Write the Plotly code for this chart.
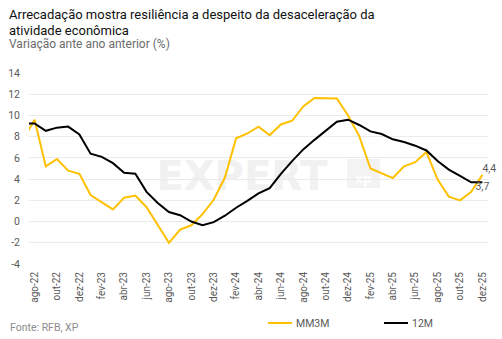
import plotly.graph_objects as go

months = ["jul-22", "ago-22", "set-22", "out-22", "nov-22", "dez-22",
          "jan-23", "fev-23", "mar-23", "abr-23", "mai-23", "jun-23",
          "jul-23", "ago-23", "set-23", "out-23", "nov-23", "dez-23",
          "jan-24", "fev-24", "mar-24", "abr-24", "mai-24", "jun-24",
          "jul-24", "ago-24", "set-24", "out-24", "nov-24", "dez-24",
          "jan-25", "fev-25", "mar-25", "abr-25", "mai-25", "jun-25",
          "jul-25", "ago-25", "set-25", "out-25", "nov-25", "dez-25"]

mm3m = [7.8, 9.6, 5.2, 5.9, 4.8, 4.5,
        2.5, 1.8, 1.15, 2.25, 2.45, 1.35,
        -0.3, -2.0, -0.75, -0.35, 0.7, 2.05,
        4.15, 7.85, 8.3, 8.95, 8.15, 9.15,
        9.5, 10.85, 11.65, 11.65, 11.6, 10.0,
        8.05, 5.0, 4.55, 4.1, 5.2, 5.6,
        6.55, 3.95, 2.35, 2.0, 2.8, 4.4]

m12 = [9.25, 9.25, 8.55, 8.85, 8.95, 8.2,
       6.4, 6.1, 5.5, 4.6, 4.5, 2.8,
       1.75, 0.9, 0.6, 0.0, -0.35, -0.05,
       0.55, 1.3, 1.95, 2.65, 3.15, 4.5,
       5.7, 6.8, 7.7, 8.55, 9.4, 9.6,
       9.1, 8.5, 8.25, 7.75, 7.5, 7.15,
       6.7, 5.7, 4.9, 4.3, 3.7, 3.7]

series_names = ["MM3M", "12M"]
x_ticks = months[1::2]
y_ticks = [-4, -2, 0, 2, 4, 6, 8, 10, 12, 14]
y_ticktext = [str(v) for v in y_ticks]

title_lines = ["Arrecadação mostra resiliência a despeito da desaceleração da",
               "atividade econômica"]
subtitle_text = "Variação ante ano anterior (%)"
source_text = "Fonte: RFB, XP"

YELLOW = "#FFC000"
BLACK = "#000000"
GRAY_TXT = "#595959"


def last_label(vals):
    return [""] * (len(vals) - 1) + [f"{vals[-1]:.1f}".replace(".", ",")]


W, H = 502, 339
ML, MR, MT, MB = 29, 14, 73, 75
PW, PH = W - ML - MR, H - MT - MB


def px(xp):
    return (xp - ML) / PW


def py(yp):
    return (H - MB - yp) / PH


fig = go.Figure()
fig.add_trace(go.Scatter(
    x=months, y=mm3m, name=series_names[0], mode="lines+text",
    line=dict(color=YELLOW, width=2),
    text=last_label(mm3m), textposition="top right",
    textfont=dict(family="Roboto", size=10.5, color=GRAY_TXT),
    cliponaxis=False,
))
fig.add_trace(go.Scatter(
    x=months, y=m12, name=series_names[1], mode="lines+text",
    line=dict(color=BLACK, width=2),
    text=last_label(m12), textposition="bottom center",
    textfont=dict(family="Roboto", size=10.5, color=GRAY_TXT),
    cliponaxis=False,
))

annotations = [
    dict(text=title_lines[0], x=px(7), y=py(14.5), font=dict(size=13, color="#111111")),
    dict(text=title_lines[1], x=px(7), y=py(30.5), font=dict(size=13, color="#111111")),
    dict(text=subtitle_text, x=px(7), y=py(43.5), font=dict(size=12, color="#6b6b6b")),
    dict(text=source_text, x=px(8), y=py(327), font=dict(size=10.5, color="#8c8c8c")),
    dict(text=series_names[0], x=px(294), y=py(323), font=dict(size=10.5, color=GRAY_TXT)),
    dict(text=series_names[1], x=px(410), y=py(323), font=dict(size=10.5, color=GRAY_TXT)),
]
for a in annotations:
    a.update(xref="paper", yref="paper", xanchor="left", yanchor="middle",
             align="left", showarrow=False)
    a["font"]["family"] = "Roboto"

shapes = [
    dict(type="rect", xref="paper", yref="paper", layer="below",
         x0=px(148), x1=px(336), y0=py(190), y1=py(156),
         line=dict(width=0), fillcolor="rgba(0,0,0,0)",
         label=dict(text="EXPERT", textposition="middle center",
                    font=dict(family="DejaVu Sans", size=40,
                              color="#f1f1f1", weight="bold"))),
    dict(type="rect", xref="paper", yref="paper", layer="below",
         x0=px(347), x1=px(380), y0=py(188), y1=py(159),
         line=dict(width=0), fillcolor="#f3f3f3",
         label=dict(text="xp", textposition="bottom center",
                    font=dict(family="DejaVu Sans", size=12,
                              color="#ffffff", weight="bold"))),
    # legend keys
    dict(type="line", xref="paper", yref="paper",
         x0=px(268), x1=px(292), y0=py(323), y1=py(323),
         line=dict(color=YELLOW, width=2)),
    dict(type="line", xref="paper", yref="paper",
         x0=px(384), x1=px(408), y0=py(323), y1=py(323),
         line=dict(color=BLACK, width=2)),
]

fig.update_layout(
    width=W, height=H,
    margin=dict(l=ML, r=MR, t=MT, b=MB, autoexpand=False),
    paper_bgcolor="white", plot_bgcolor="white",
    font=dict(family="Roboto", size=10, color=GRAY_TXT),
    showlegend=False,
    xaxis=dict(type="category", categoryorder="array", categoryarray=months,
               range=[0.5, len(months) - 0.5], automargin=False,
               tickmode="array", tickvals=x_ticks, ticktext=x_ticks,
               tickangle=-90, showgrid=False, showline=False, zeroline=False,
               ticks="", ticklabelstandoff=5,
               tickfont=dict(family="Roboto", size=10, color=GRAY_TXT)),
    yaxis=dict(range=[-4, 14], tickmode="array", tickvals=y_ticks,
               ticktext=y_ticktext, showgrid=True, gridcolor="#ebebeb",
               gridwidth=1, zeroline=False, showline=False, ticks="",
               ticklabelstandoff=8, automargin=False,
               tickfont=dict(family="Roboto", size=10.5, color=GRAY_TXT)),
    annotations=annotations,
    shapes=shapes,
)

fig.write_html("out.html")
